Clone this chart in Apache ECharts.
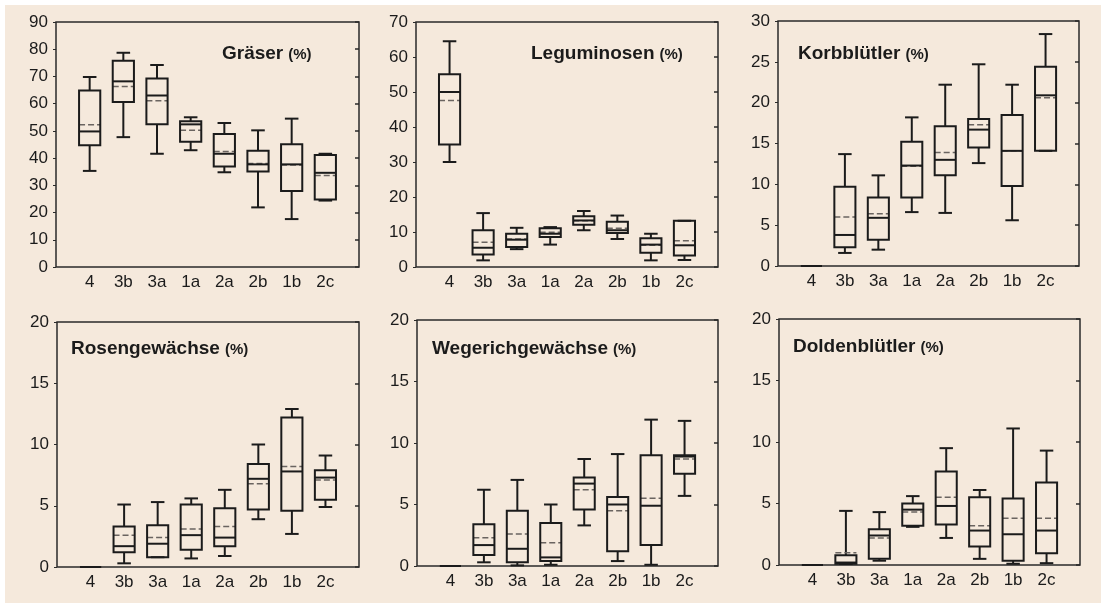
<!DOCTYPE html>
<html>
<head>
<meta charset="utf-8">
<script src="https://cdn.jsdelivr.net/npm/echarts@6/dist/echarts.min.js"></script>
<style>
  html, body { margin: 0; padding: 0; background: #fff; }
  #bg { position: absolute; left: 5px; top: 5px; right: 0; bottom: 0; background: #f5e9dc; }
  #chart { position: absolute; left: 0; top: 0; width: 1101px; height: 603px; }
</style>
</head>
<body>
<div id="bg"></div>
<div id="chart"></div>
<script>
// Kategorien (Standortgruppen)
const categories = ['4', '3b', '3a', '1a', '2a', '2b', '1b', '2c'];

// je Kategorie: [unterer Whisker, Q1, Median, Q3, oberer Whisker, Mittelwert]
const graeser = [
  [35.3, 44.7, 49.8, 64.8, 69.8, 52.3],
  [47.7, 60.6, 68.2, 75.8, 78.7, 66.3],
  [41.6, 52.4, 63.0, 69.2, 74.2, 61.1],
  [42.9, 46.0, 52.4, 53.5, 55.0, 50.2],
  [34.8, 36.9, 41.6, 48.9, 52.9, 42.4],
  [21.9, 35.1, 37.7, 42.7, 50.2, 38.0],
  [17.6, 27.9, 37.7, 45.1, 54.5, 37.5],
  [24.4, 24.8, 34.6, 41.1, 41.6, 33.6]
];
const leguminosen = [
  [30.0, 35.0, 50.0, 55.1, 64.5, 47.6],
  [1.9, 3.6, 5.5, 10.5, 15.4, 7.1],
  [5.1, 5.7, 7.8, 9.5, 11.2, 8.0],
  [6.4, 8.6, 9.5, 11.1, 11.4, 9.9],
  [10.5, 12.1, 13.3, 14.5, 16.0, 13.2],
  [8.0, 9.7, 10.5, 12.9, 14.7, 11.1],
  [1.9, 4.1, 6.4, 8.2, 9.5, 6.2],
  [2.0, 3.3, 6.2, 13.2, 13.2, 7.5]
];
const korbbluetler = [
  [0, 0, 0, 0, 0, 0],
  [1.6, 2.3, 3.8, 9.7, 13.7, 6.0],
  [2.0, 3.2, 5.9, 8.4, 11.1, 6.4],
  [6.6, 8.4, 12.3, 15.2, 18.2, 12.2],
  [6.5, 11.1, 13.0, 17.1, 22.2, 13.9],
  [12.6, 14.5, 16.7, 18.0, 24.7, 17.3],
  [5.6, 9.8, 14.1, 18.5, 22.2, 14.1],
  [14.1, 14.1, 20.9, 24.4, 28.4, 20.6]
];
const rosengewaechse = [
  [0, 0, 0, 0, 0, 0],
  [0.3, 1.2, 1.7, 3.3, 5.1, 2.6],
  [0.8, 0.8, 1.9, 3.4, 5.3, 2.4],
  [0.7, 1.4, 2.6, 5.1, 5.6, 3.1],
  [0.9, 1.7, 2.4, 4.8, 6.3, 3.3],
  [3.9, 4.7, 7.2, 8.4, 10.0, 6.8],
  [2.7, 4.6, 7.8, 12.2, 12.9, 8.2],
  [4.9, 5.5, 7.3, 7.9, 9.1, 7.1]
];
const wegerichgewaechse = [
  [0, 0, 0, 0, 0, 0],
  [0.3, 0.9, 1.7, 3.4, 6.2, 2.3],
  [0.05, 0.3, 1.4, 4.5, 7.0, 2.6],
  [0.1, 0.4, 0.7, 3.5, 5.0, 1.9],
  [3.3, 4.6, 6.7, 7.2, 8.7, 6.2],
  [0.4, 1.2, 5.0, 5.6, 9.1, 4.5],
  [0.1, 1.7, 4.9, 9.0, 11.9, 5.5],
  [5.7, 7.5, 8.9, 9.0, 11.8, 8.7]
];
const doldenbluetler = [
  [0, 0, 0, 0, 0, 0],
  [0.08, 0.1, 0.2, 0.8, 4.4, 1.0],
  [0.35, 0.5, 2.4, 2.9, 4.3, 2.2],
  [3.1, 3.2, 4.5, 5.0, 5.6, 4.3],
  [2.2, 3.3, 4.8, 7.6, 9.5, 5.5],
  [0.5, 1.5, 2.8, 5.5, 6.1, 3.2],
  [0.1, 0.35, 2.5, 5.4, 11.1, 3.8],
  [0.15, 0.95, 2.8, 6.7, 9.3, 3.8]
];

const panelNames = ['Gräser', 'Leguminosen', 'Korbblütler', 'Rosengewächse', 'Wegerichgewächse', 'Doldenblütler'];
const panelData = [graeser, leguminosen, korbbluetler, rosengewaechse, wegerichgewaechse, doldenbluetler];
const yMax = [90, 70, 30, 20, 20, 20];
const yStep = [10, 10, 5, 5, 5, 5];

// Layout der sechs Diagramme (px)
const grids = [
  { left: 56, top: 22, width: 303, height: 245 },
  { left: 416, top: 22, width: 302, height: 245 },
  { left: 778, top: 21, width: 301, height: 245 },
  { left: 57, top: 322, width: 302, height: 245 },
  { left: 417, top: 320, width: 301, height: 246 },
  { left: 779, top: 319, width: 301, height: 246 }
];
const titlePos = [
  { left: 222, top: 41 },
  { left: 531, top: 41 },
  { left: 798, top: 41 },
  { left: 71, top: 336 },
  { left: 432, top: 336 },
  { left: 793, top: 334 }
];

const FONT = '"Liberation Sans", Arial, sans-serif';
const INK = '#1b1b1b';

const renderBox = (params, api) => {
  const x = api.value(0);
  const lo = api.coord([x, api.value(1)]);
  const q1 = api.coord([x, api.value(2)]);
  const med = api.coord([x, api.value(3)]);
  const q3 = api.coord([x, api.value(4)]);
  const hi = api.coord([x, api.value(5)]);
  const mean = api.coord([x, api.value(6)]);
  const w = api.size([0.63, 0])[0];
  const cx = lo[0];
  const hw = w / 2;
  const cw = w * 0.32;
  const solid = { stroke: INK, lineWidth: 2, fill: null };
  const line = (x1, y1, x2, y2, style) => ({ type: 'line', shape: { x1, y1, x2, y2 }, style });
  return {
    type: 'group',
    children: [
      line(cx, q3[1], cx, hi[1], solid),
      line(cx, lo[1], cx, q1[1], solid),
      line(cx - cw, hi[1], cx + cw, hi[1], solid),
      line(cx - cw, lo[1], cx + cw, lo[1], solid),
      line(cx - hw, mean[1], cx + hw, mean[1], { stroke: '#6a6460', lineWidth: 1.5, lineDash: [6, 3] }),
      line(cx - hw, med[1], cx + hw, med[1], solid),
      { type: 'rect', shape: { x: cx - hw, y: q3[1], width: w, height: q1[1] - q3[1] }, style: solid }
    ]
  };
};

const option = {
  animation: false,
  title: panelNames.map((name, i) => ({
    text: '{b|' + name + '} {n|(%)}',
    left: titlePos[i].left,
    top: titlePos[i].top,
    padding: 0,
    textStyle: {
      rich: {
        b: { fontFamily: FONT, fontSize: 19, fontWeight: 'bold', color: INK, lineHeight: 22, verticalAlign: 'bottom' },
        n: { fontFamily: FONT, fontSize: 15, color: INK, lineHeight: 22, verticalAlign: 'bottom', padding: [0, 0, 1, 0] }
      }
    }
  })),
  grid: grids.map(g => ({ ...g, show: true, borderColor: '#2a2a2a', borderWidth: 1.5, backgroundColor: 'transparent' })),
  xAxis: grids.map((g, i) => ({
    type: 'value',
    gridIndex: i,
    min: 0,
    max: 9,
    interval: 1,
    axisLine: { show: false },
    axisTick: { show: false },
    splitLine: { show: false },
    axisLabel: {
      fontFamily: FONT,
      fontSize: 17,
      color: INK,
      margin: 7,
      formatter: v => categories[v - 1] || ''
    }
  })),
  yAxis: grids.flatMap((g, i) => [
    {
      type: 'value',
      gridIndex: i,
      min: 0,
      max: yMax[i],
      interval: yStep[i],
      axisLine: { show: false },
      axisTick: { show: true, length: 3, lineStyle: { color: '#2a2a2a', width: 1 } },
      splitLine: { show: false },
      axisLabel: { fontFamily: FONT, fontSize: 17, color: INK, margin: 8 }
    },
    {
      type: 'value',
      gridIndex: i,
      position: 'right',
      min: 0,
      max: yMax[i],
      interval: yStep[i],
      axisLine: { show: false },
      axisTick: { show: true, inside: true, length: 4, lineStyle: { color: '#2a2a2a', width: 1.5 } },
      splitLine: { show: false },
      axisLabel: { show: false }
    }
  ]),
  series: panelData.map((rows, i) => ({
    type: 'custom',
    xAxisIndex: i,
    yAxisIndex: i * 2,
    renderItem: renderBox,
    encode: { x: 0, y: [1, 2, 3, 4, 5, 6] },
    data: rows.map((r, k) => [k + 1, ...r])
  }))
};

const chart = echarts.init(document.getElementById('chart'));
chart.setOption(option);
</script>
</body>
</html>
